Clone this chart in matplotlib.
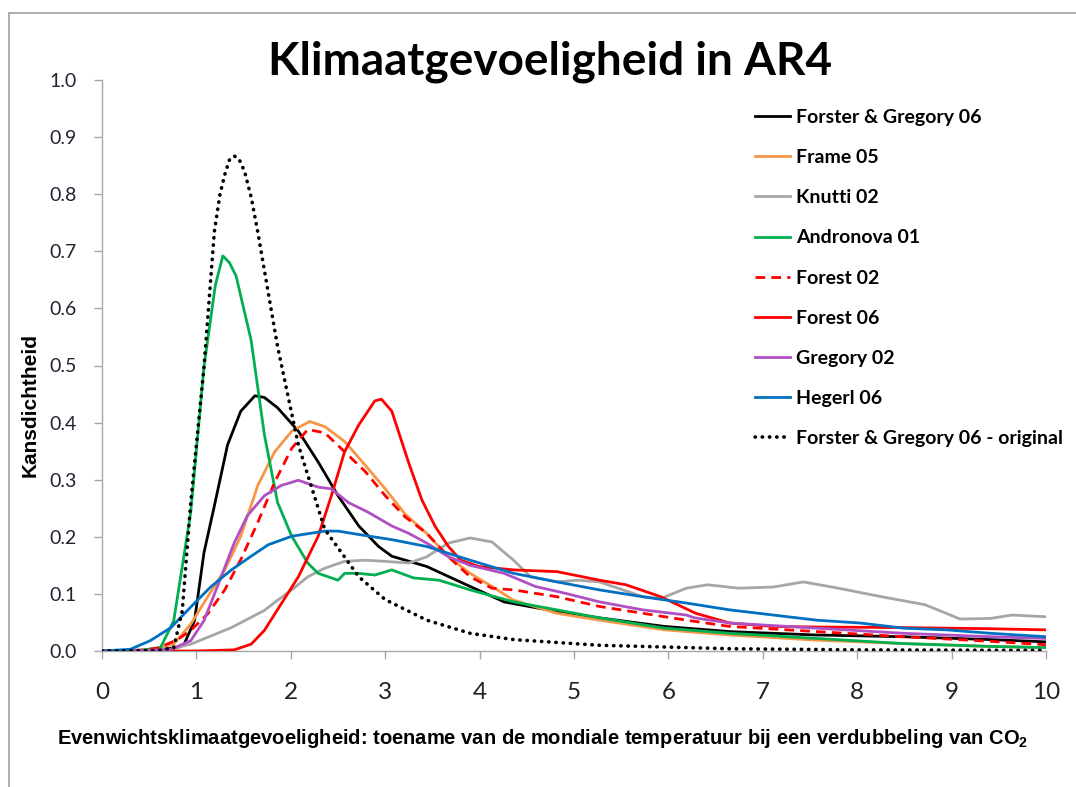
import matplotlib
matplotlib.use("Agg")
import matplotlib.pyplot as plt
from matplotlib.patches import Rectangle

plt.rcParams['mathtext.fontset'] = 'custom'
plt.rcParams['mathtext.rm'] = 'Liberation Sans:bold'

# Curves (x: climate sensitivity, y: probability density)
fg06_x = [0, 0.6, 0.8, 0.87, 0.98, 1.08, 1.19, 1.33, 1.47, 1.62, 1.72, 1.86, 2.08, 2.29, 2.50, 2.72,
          2.93, 3.07, 3.44, 3.90, 4.26, 4.82, 5.27, 5.96, 6.65, 7.57, 8.49, 9.41, 10]
fg06_y = [0, 0.002, 0.006, 0.012, 0.053, 0.172, 0.254, 0.361, 0.42, 0.447, 0.444, 0.426, 0.385, 0.331,
          0.272, 0.219, 0.183, 0.166, 0.148, 0.113, 0.086, 0.069, 0.058, 0.043, 0.034, 0.028, 0.025,
          0.020, 0.016]

frame05_x = [0, 0.5, 0.76, 0.94, 1.12, 1.30, 1.47, 1.65, 1.83, 2.01, 2.20, 2.36, 2.57, 2.79, 3.0, 3.21,
             3.44, 3.67, 3.90, 4.13, 4.36, 4.82, 5.27, 5.96, 6.65, 7.57, 8.49, 9.41, 10]
frame05_y = [0, 0.002, 0.012, 0.047, 0.095, 0.142, 0.201, 0.29, 0.349, 0.385, 0.402, 0.393, 0.367,
             0.325, 0.284, 0.24, 0.206, 0.165, 0.136, 0.113, 0.089, 0.066, 0.054, 0.037, 0.028, 0.019,
             0.013, 0.008, 0.006]

knutti02_x = [0, 0.5, 0.73, 0.94, 1.12, 1.37, 1.58, 1.72, 1.86, 2.01, 2.18, 2.36, 2.57, 2.79, 3.0, 3.25,
              3.44, 3.67, 3.90, 4.13, 4.36, 4.54, 4.82, 5.04, 5.27, 5.73, 5.92, 6.19, 6.42, 6.74, 7.11,
              7.43, 7.80, 8.26, 8.72, 9.09, 9.41, 9.64, 10]
knutti02_y = [0, 0.001, 0.003, 0.012, 0.024, 0.041, 0.059, 0.071, 0.089, 0.107, 0.13, 0.145, 0.157,
              0.159, 0.157, 0.154, 0.165, 0.189, 0.198, 0.191, 0.159, 0.130, 0.121, 0.124, 0.121, 0.095,
              0.092, 0.110, 0.116, 0.110, 0.112, 0.121, 0.110, 0.095, 0.081, 0.056, 0.057, 0.063, 0.060]

andronova01_x = [0, 0.4, 0.62, 0.76, 0.94, 1.08, 1.20, 1.28, 1.35, 1.42, 1.58, 1.72, 1.86, 2.01, 2.18,
                 2.29, 2.50, 2.57, 2.72, 2.89, 3.07, 3.30, 3.57, 3.90, 4.36, 4.82, 5.27, 5.96, 6.65,
                 7.57, 8.49, 9.41, 10]
andronova01_y = [0, 0.001, 0.006, 0.053, 0.243, 0.497, 0.64, 0.692, 0.68, 0.657, 0.544, 0.379, 0.26,
                 0.201, 0.154, 0.136, 0.124, 0.136, 0.136, 0.133, 0.142, 0.128, 0.124, 0.107, 0.086,
                 0.072, 0.058, 0.040, 0.031, 0.022, 0.013, 0.008, 0.006]

forest02_x = [0, 0.4, 0.59, 0.8, 0.94, 1.12, 1.30, 1.47, 1.65, 1.83, 2.01, 2.18, 2.36, 2.57, 2.79, 3.0,
              3.21, 3.44, 3.67, 3.90, 4.13, 4.36, 4.82, 5.27, 5.73, 6.19, 6.65, 7.57, 8.49, 9.41, 10]
forest02_y = [0, 0.001, 0.005, 0.02, 0.036, 0.065, 0.107, 0.16, 0.225, 0.296, 0.355, 0.388, 0.382,
              0.349, 0.314, 0.272, 0.235, 0.206, 0.165, 0.13, 0.110, 0.107, 0.095, 0.078, 0.066, 0.054,
              0.043, 0.034, 0.025, 0.017, 0.011]

forest06_x = [0, 1.0, 1.40, 1.58, 1.72, 1.90, 2.08, 2.29, 2.43, 2.57, 2.72, 2.89, 2.96, 3.07, 3.25, 3.39,
              3.53, 3.67, 3.80, 3.99, 4.36, 4.82, 5.27, 5.55, 5.92, 6.29, 6.65, 7.11, 7.57, 8.49, 9.41, 10]
forest06_y = [0, 0, 0.002, 0.012, 0.036, 0.083, 0.13, 0.201, 0.272, 0.349, 0.396, 0.438, 0.441, 0.42,
              0.329, 0.264, 0.218, 0.183, 0.159, 0.148, 0.142, 0.139, 0.124, 0.116, 0.095, 0.066, 0.049,
              0.043, 0.042, 0.041, 0.039, 0.037]

gregory02_x = [0, 0.5, 0.73, 0.94, 1.08, 1.22, 1.40, 1.54, 1.72, 1.90, 2.08, 2.29, 2.43, 2.61, 2.82, 3.07,
               3.25, 3.44, 3.67, 3.90, 4.26, 4.59, 4.91, 5.27, 5.73, 6.19, 6.28, 6.65, 7.57, 8.49, 9.41, 10]
gregory02_y = [0, 0.001, 0.003, 0.018, 0.053, 0.112, 0.189, 0.237, 0.272, 0.29, 0.299, 0.287, 0.284,
               0.26, 0.243, 0.219, 0.206, 0.189, 0.165, 0.15, 0.136, 0.113, 0.101, 0.086, 0.072, 0.063,
               0.058, 0.049, 0.040, 0.031, 0.025, 0.022]

hegerl06_x = [0, 0.30, 0.51, 0.73, 0.94, 1.15, 1.37, 1.58, 1.76, 2.01, 2.36, 2.50, 2.72, 3.07, 3.44, 3.90,
              4.36, 4.82, 5.27, 5.73, 6.19, 6.65, 7.11, 7.57, 8.03, 8.49, 8.95, 9.41, 10]
hegerl06_y = [0, 0.003, 0.018, 0.041, 0.077, 0.112, 0.142, 0.166, 0.186, 0.201, 0.21, 0.21, 0.204, 0.195,
              0.183, 0.159, 0.136, 0.121, 0.107, 0.095, 0.084, 0.072, 0.063, 0.054, 0.049, 0.040, 0.037,
              0.031, 0.025]

fg06_orig_x = [0, 0.6, 0.76, 0.85, 0.94, 1.08, 1.19, 1.25, 1.30, 1.35, 1.40, 1.45, 1.51, 1.58, 1.65,
               1.86, 2.08, 2.36, 2.72, 3.0, 3.44, 3.90, 4.36, 5.27, 6.65, 8.0, 10]
fg06_orig_y = [0, 0.001, 0.006, 0.07, 0.26, 0.497, 0.734, 0.80, 0.834, 0.86, 0.867, 0.862, 0.84, 0.795,
               0.734, 0.533, 0.361, 0.213, 0.130, 0.09, 0.054, 0.031, 0.02, 0.01, 0.004, 0.002, 0.001]

labels = ["Forster & Gregory 06", "Frame 05", "Knutti 02", "Andronova 01", "Forest 02",
          "Forest 06", "Gregory 02", "Hegerl 06", "Forster & Gregory 06 - original"]
colors = ["#000000", "#F79646", "#A6A6A6", "#00B050", "#FF0000",
          "#FF0000", "#B050C4", "#0070C0", "#000000"]

x_ticks = list(range(0, 11))
y_ticks = [i / 10 for i in range(0, 11)]

W, H = 1076, 787
fig = plt.figure(figsize=(W / 100, H / 100), dpi=100)
ax = fig.add_axes([102 / W, 1 - 651 / H, (1046 - 102) / W, (651 - 80) / H])

series = [(fg06_x, fg06_y), (frame05_x, frame05_y), (knutti02_x, knutti02_y),
          (andronova01_x, andronova01_y), (forest02_x, forest02_y), (forest06_x, forest06_y),
          (gregory02_x, gregory02_y), (hegerl06_x, hegerl06_y), (fg06_orig_x, fg06_orig_y)]

for i, (xs, ys) in enumerate(series):
    if labels[i] == "Forest 02":
        ax.plot(xs, ys, color=colors[i], lw=2.0, ls=(0, (3.5, 2.2)), label=labels[i], zorder=3)
    elif i == 8:
        ax.plot(xs, ys, color=colors[i], lw=2.6, ls=(0, (0.1, 1.9)), dash_capstyle='round',
                label=labels[i], zorder=4)
    else:
        ax.plot(xs, ys, color=colors[i], lw=2.0, label=labels[i], zorder=3,
                solid_joinstyle='round')

ax.set_xlim(0, 10)
ax.set_ylim(0, 1.0)
ax.set_xticks(x_ticks)
ax.set_yticks(y_ticks)
ax.set_xticklabels([str(t) for t in x_ticks], fontfamily='Lato', fontsize=17.5, color='#222222')
ax.set_yticklabels(["%.1f" % t for t in y_ticks], fontfamily='Lato', fontsize=14, color='#222233')
ax.tick_params(axis='x', direction='out', length=6, width=1, color='#A6A6A6', pad=16)
ax.tick_params(axis='y', direction='out', length=6, width=1, color='#A6A6A6', pad=12)
for side in ['top', 'right']:
    ax.spines[side].set_visible(False)
for side in ['left', 'bottom']:
    ax.spines[side].set_color('#A6A6A6')
    ax.spines[side].set_linewidth(1)

fig.text(550 / W, 1 - 62 / H, "Klimaatgevoeligheid in AR4", ha='center', va='center',
         fontfamily='Lato', fontweight='bold', fontsize=33)
fig.text(30 / W, 1 - 405 / H, "Kansdichtheid", rotation=90, ha='center', va='center',
         fontfamily='Liberation Sans', fontweight='bold', fontsize=15)
fig.text(543 / W, 1 - 738 / H,
         "Evenwichtsklimaatgevoeligheid: toename van de mondiale temperatuur bij een verdubbeling van CO$_{\\mathrm{2}}$",
         ha='center', va='center', fontfamily='Liberation Sans', fontweight='bold', fontsize=14.5)

leg = ax.legend(loc='upper left', bbox_to_anchor=(755 / W, 1 - 109 / H),
                bbox_transform=fig.transFigure, frameon=False,
                prop={'family': 'Lato', 'weight': 'bold', 'size': 14},
                handlelength=1.8, handletextpad=0.3, labelspacing=1.19, borderpad=0,
                borderaxespad=0)

# chart border (only top and left edge visible in the reference)
fig.patches.append(Rectangle((9 / W, -0.1), 1.2, 1.1 - 13 / H, transform=fig.transFigure,
                             fill=False, edgecolor='#A0A0A0', lw=1.2))

fig.savefig("out.png", dpi=100)
